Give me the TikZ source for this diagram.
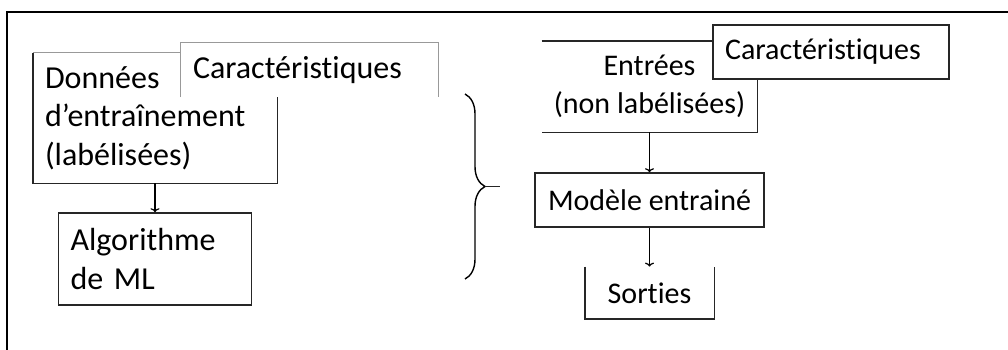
\documentclass[tikz,border=0pt]{standalone}
\usepackage{fontspec}
\setmainfont[Ligatures=NoCommon]{Carlito}
\usetikzlibrary{arrows.meta,positioning,decorations.pathreplacing}

\begin{document}
\begin{tikzpicture}[x=1pt, y=-1pt]
  \fontsize{30}{38}\selectfont
  \tikzset{
      mybox/.style={rectangle, fill=white, inner xsep=12pt, inner ysep=0pt, align=left},
      myframed/.style={mybox, draw=black!85, line width=1.4pt},
      mybig/.style={font=\fontsize{32}{38.5}\selectfont},
      myedge/.style={line width=1.4pt, black!85},
      mylight/.style={line width=1.2pt, black!40},
      myarrow/.style={->, >={To[length=4pt, width=9pt]}, line width=1.2pt},
      mybrace/.style={decorate, decoration={brace, amplitude=20pt}, line width=1.4pt}
  }
  \useasboundingbox (0,0) rectangle (1008,349);
  \draw[line width=2.2pt] (7,360) -- (7,12) -- (1020,12);

  % apprentissage
  \node[mybox, mybig, text width=220pt, minimum height=130pt] (donnees) at (155,118) {Données\\d’entraînement\\(labélisées)};
  \draw[myedge] (donnees.north west) -- (donnees.south west) -- (donnees.south east) -- (donnees.north east);
  \draw[mylight] (donnees.north west) -- (donnees.north east);
  \node[mybox, mybig, text width=233pt, minimum height=54pt] (caracgauche) at (309.5,70) {Caractéristiques};
  \draw[mylight] (caracgauche.south west) -- (caracgauche.north west) -- (caracgauche.north east) -- (caracgauche.south east);
  \node[myframed, mybig, text width=169pt, minimum height=92pt, below=29pt of donnees] (algorithme) {Algorithme\\de ML};

  \coordinate (bracetop) at (465,94);
  \coordinate (bracebottom) at (465,279);
  \coordinate (bracetip) at (485,186.5);
  \draw[mybrace] (bracetop) -- (bracebottom);
  \draw[myedge] (bracetip) -- ++(15,0);

  % prediction
  \node[mybox, align=center, minimum width=213pt, minimum height=91pt] (entrees) at (649.5,86.5) {Entrées\\(non labélisées)};
  \draw[myedge] (entrees.north west) -- (entrees.north east) -- (entrees.south east) -- (entrees.south west);
  \node[myframed, text width=212pt, minimum height=54pt] (caracdroite) at (831,52) {Caractéristiques};
  \node[myframed, align=center, minimum width=229pt, minimum height=54pt, below=40pt of entrees] (modele) {Modèle entrainé};
  \node[mybox, align=center, minimum width=129pt, minimum height=52pt, below=39pt of modele] (sorties) {Sorties};
  \draw[myedge] (sorties.north west) -- (sorties.south west) -- (sorties.south east) -- (sorties.north east);

  \draw[myarrow] (donnees.south) -- (algorithme.north);
  \draw[myarrow] (entrees.south) -- (modele.north);
  \draw[myarrow] (modele.south) -- (sorties.north);
\end{tikzpicture}
\end{document}
